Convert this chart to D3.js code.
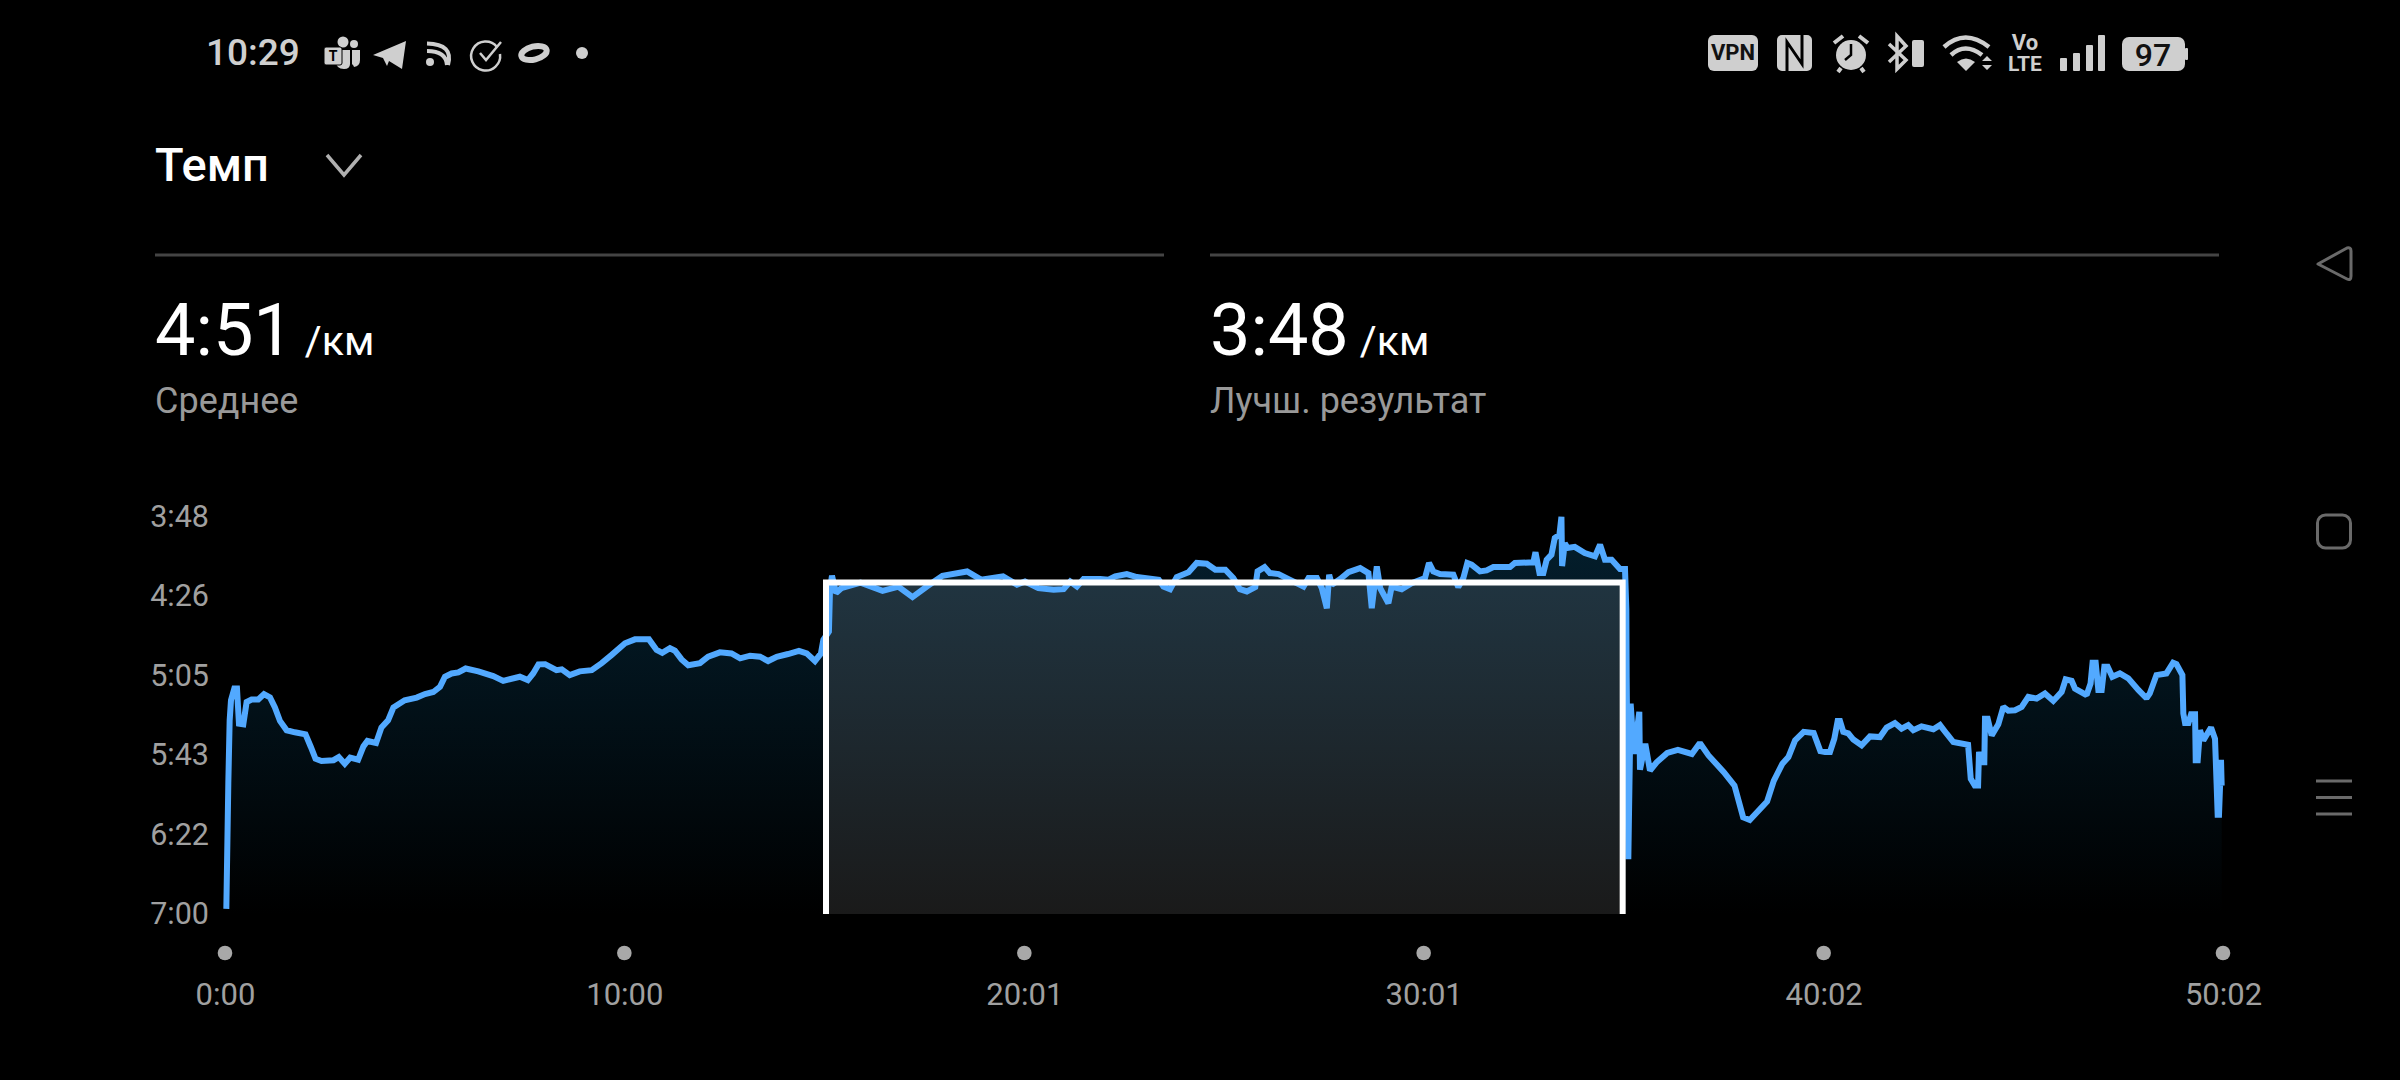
<!DOCTYPE html>
<html><head><meta charset="utf-8">
<script src="https://cdn.jsdelivr.net/npm/d3@7"></script>
<style>html,body{margin:0;padding:0;background:#000;overflow:hidden}svg{display:block}text{font-family:Roboto,sans-serif}</style>
</head><body>
<svg id="c" width="2400" height="1080"></svg>
<script>
// elapsed seconds
const times=[2,5,7,9,14,18,21,27.5,32.5,40,50,58.6,67.6,75,82.6,92.6,105,121,129,136,145,163,171,180,188,200,208,214,227,235,245,253,270,288,300.5,313,323,330.5,340.5,350.6,361.6,380.6,403,418,443,455,463,471,481,498,506,518,533,551,566,581,601,616,637,648.5,657,668.5,676,686,696,713.6,726,743.6,761,774,789,804,816,829,846,862.3,874,886.4,895.4,899,907.4,909,912,918,926,955,988,1012,1033,1054,1078,1115,1136,1169,1190,
1202,1222,1245,1260,1270,1280,1290,1315,1327.5,1337.5,1355,1370,1403,1410,1420,1430,1447.7,1460,1475,1488,1503,1515,1525,1535.4,1548,1551.4,1562,1570,1583,1598,1620.5,1628,1640.5,1648,1655.5,1659,1663,1675.6,1688,1705.6,1718,1723,1730.6,1735.7,1748,1753,1768,1783,
1803,1809,1815.5,1825.5,1845.6,1853,1860.6,1866.6,1873,1885.6,1895.6,1905.7,1930.7,1938,1965.8,1969,1975,1980.8,1985.8,1993,1998,2005,2008,2009,2013,2017,2028,2043,2058.4,2066,2073.4,2083.4,2096,2103.5,2105.5,2106,2108.5,2112,2117,2125,2126,2134,2141,2151,2167,2183,2204,2216,2229,2252,2268,2281,2291,2317,2327,2340,2349,2359,2372,2387,2397,
2404,2411.5,2418,2423,2426.5,2431.5,2439,2446.6,2459,2471.6,2486.6,2496.6,2509,2519,2529,2536.7,2549,2566.8,2576.8,2586.8,2596.8,2619,2623,2629,2634,2635.4,2639.4,2643.4,2644.4,2648.4,2654.4,2664.4,2672,2679.4,2689.5,2699.5,2709.5,2722,2734.5,2747,2759.6,2765.6,2774.6,2779.6,2797,2803,2806,2810.7,2814.7,2819.7,2823.7,2828.7,2835.7,2847,2859.7,2874.8,2887,2892,2902,2917,2927,2932,2941,2942.4,2945,2950,2954,2960,2961,2964,2967.4,2972.4,2984,2990,2992.4,2994,2996,2999,3000];
// pace, seconds per km
const paces=[418,357,326.7,317,311.3,311.3,328.3,328.6,317.8,316.6,316.6,314,315.6,320.5,327,331.5,332.5,333.5,339.6,345.3,346.4,346,344.5,347.7,344.8,345.8,339.3,336.7,337.7,330.2,326.7,320.5,317,315.7,314,313,310.5,305.6,304,303.5,301.6,303,305.3,307.6,305.6,307.2,304,299.6,299.5,302.4,302,304.8,303,302.4,299,295,289.4,287.5,287.5,292.6,294,291.8,293,297.2,300,299,295.9,293.8,294.3,296.7,295.4,295.9,298,295.9,294.6,293.1,294.3,298,294.3,287.8,283.7,263.5,256.7,265,262.7,260,264,262,267,262,256.7,254.6,258.6,257,261,
259.5,262.7,263.5,263.2,259.5,261.9,258.3,258.3,258.6,257,255.9,257.3,258.6,261.9,263.2,257.3,255,250.5,250.9,253.8,253.8,257.8,263.2,264.3,262.2,254.6,252.5,255.4,255.9,258.3,261.9,257.8,257.8,262.7,272.4,256.2,261,258.3,255,253,255.4,272.4,252.2,262.7,270,261.9,263.2,260.3,
257.8,250.5,254.6,255.9,256.2,262.2,257.8,250.5,251.3,254.6,254.1,252.5,252.5,250.5,250.2,245.3,255.4,255.4,248.9,246.5,238.4,236.8,228.2,252,241,243.2,242.7,245.7,247.3,241.6,248.9,248.9,253.4,253.4,273,305.6,394,318.6,343,322.6,350.6,338,351,347,342.5,341,343,337.7,343.7,351.8,358.3,373.7,375,366,356,347.7,344.5,336.4,332.3,332.8,341.6,
342,342,335.6,327,327,332.3,333,336,338.8,334.5,334.8,330.2,328,330.7,329,331.5,329.6,331,329,333.2,337.2,338.5,355,358.3,358.3,342,347,347,325.9,325.9,334,328.6,320.2,322,321.8,320.2,315.3,316.2,313.7,317.3,312.9,306.9,307.6,311.3,314.5,308.9,298.8,298.8,312,312,300.8,300.8,305.6,304,306.4,312,316,313.7,304.8,304,298.8,299.5,304.8,323.4,328,328,323.8,323.8,346,346,331.5,336.4,330.2,335.6,357.5,372.4,372.4,345.8,358.3];
const yTickValues=[228,266,305,343,382,420];
const yTickLabels=["3:48","4:26","5:05","5:43","6:22","7:00"];
const xTickValues=[0,600,1201,1801,2402,3002];
const xTickLabels=["0:00","10:00","20:01","30:01","40:02","50:02"];
const selection=[903,2100];
const selectionPace=260;
const title="Темп";
const stats=[{value:"4:51",unit:"/км",label:"Среднее"},{value:"3:48",unit:"/км",label:"Лучш. результат"}];

const svg=d3.select("#c");
const x=d3.scaleLinear().domain([0,3002]).range([225,2223]);
const y=d3.scaleLinear().domain([228,420]).range([516.5,913]);
const pts=times.map((t,i)=>[t,paces[i]]);
const base=914;

const defs=svg.append("defs");
const g1=defs.append("linearGradient").attr("id","ga").attr("x1",0).attr("x2",0).attr("y1",0).attr("y2",1);
g1.append("stop").attr("offset",0).attr("stop-color","#04202f");
g1.append("stop").attr("offset",1).attr("stop-color","#000");
const g2=defs.append("linearGradient").attr("id","gs").attr("x1",0).attr("x2",0).attr("y1",0).attr("y2",1);
g2.append("stop").attr("offset",0).attr("stop-color","#203440");
g2.append("stop").attr("offset",1).attr("stop-color","#1a1a1a");

svg.append("path").datum(pts).attr("fill","url(#ga)")
  .attr("d",d3.area().x(d=>x(d[0])).y0(base).y1(d=>y(d[1])));
const sx0=x(selection[0]),sx1=x(selection[1]),sy=y(selectionPace);
svg.append("rect").attr("x",sx0).attr("y",sy).attr("width",sx1-sx0).attr("height",base-sy).attr("fill","url(#gs)");
svg.append("path").datum(pts).attr("fill","none").attr("stroke","#52a9ff").attr("stroke-width",6).attr("stroke-linejoin","miter").attr("stroke-miterlimit",1.5)
  .attr("d",d3.line().x(d=>x(d[0])).y(d=>y(d[1])));
svg.append("path").attr("fill","none").attr("stroke","#fff").attr("stroke-width",6)
  .attr("d",`M${sx0},${base}V${sy}H${sx1}V${base}`);

const yAxis=d3.axisLeft(y).tickValues(yTickValues).tickFormat((d,i)=>yTickLabels[i]).tickSize(0);
const ga=svg.append("g").attr("transform","translate(209,0)").call(yAxis);
ga.select(".domain").remove();
ga.selectAll("text").attr("x",0).attr("dy","0.34em").attr("text-anchor","end").attr("fill","#a0a0a0").style("font-size","30.5px").style("font-family","Roboto");
const xAxis=d3.axisBottom(x).tickValues(xTickValues).tickFormat((d,i)=>xTickLabels[i]).tickSize(0);
const gb=svg.append("g").attr("transform","translate(0,982.5)").call(xAxis);
gb.select(".domain").remove();
gb.selectAll("text").attr("y",0).attr("dy","0.73em").attr("fill","#a0a0a0").style("font-size","31px").style("font-family","Roboto");
svg.append("g").selectAll("circle").data(xTickValues).join("circle").attr("cx",d=>x(d)).attr("cy",953).attr("r",7.3).attr("fill","#a8a8a8");

svg.append("text").attr("x",155).attr("y",181).attr("fill","#fff").attr("font-size",47).attr("font-weight",500).text(title);
svg.append("path").attr("d","M327,155L344,175L361,155").attr("fill","none").attr("stroke","#b0b0b0").attr("stroke-width",3.5);
const colX=[155,1210];
stats.forEach((s,i)=>{
  svg.append("line").attr("x1",colX[i]).attr("x2",colX[i]+1009).attr("y1",255).attr("y2",255).attr("stroke","#444").attr("stroke-width",3);
  const t=svg.append("text").attr("x",colX[i]).attr("y",355).attr("fill","#fff");
  t.append("tspan").attr("font-size",72).text(s.value);
  t.append("tspan").attr("font-size",41).attr("dx",11).text(s.unit);
  svg.append("text").attr("x",colX[i]).attr("y",413).attr("fill","#999").attr("font-size",36).text(s.label);
});

const C="#cfcfcf";
svg.append("text").attr("x",206).attr("y",65).attr("fill",C).attr("font-size",37).attr("font-weight",500).text("10:29");
const L=svg.append("g");
L.append("circle").attr("cx",343).attr("cy",42).attr("r",5.5).attr("fill",C);
L.append("circle").attr("cx",354).attr("cy",44).attr("r",4).attr("fill",C);
L.append("path").attr("d","M336,50h14v14q0,5 -6,5q-8,0 -8,-8zM352,50h8v10q0,6 -6,7q0,-1 -2,-3z").attr("fill",C);
L.append("rect").attr("x",324).attr("y",47).attr("width",18).attr("height",18).attr("rx",2).attr("fill",C).attr("stroke","#000").attr("stroke-width",1);
L.append("text").attr("x",333).attr("y",61).attr("text-anchor","middle").attr("font-size",14).attr("font-weight",700).attr("fill","#000").text("T");
L.append("path").attr("d","M373,55L406,41L402,69L389,61L387,66L383,58Z").attr("fill",C);
L.append("circle").attr("cx",430).attr("cy",62).attr("r",4).attr("fill",C);
L.append("path").attr("d","M427,51Q446,51 447,65M427,43.5Q454,44 448,65").attr("fill","none").attr("stroke",C).attr("stroke-width",4);
L.append("path").attr("d","M497,47A14.5,14.5 0 1 0 500,54").attr("fill","none").attr("stroke",C).attr("stroke-width",2.5);
L.append("path").attr("d","M480,53L486,60L501,42").attr("fill","none").attr("stroke",C).attr("stroke-width",2.5);
L.append("ellipse").attr("cx",534).attr("cy",53).attr("rx",13).attr("ry",6.5).attr("fill","none").attr("stroke",C).attr("stroke-width",6).attr("transform","rotate(-14 534 53)");
L.append("circle").attr("cx",582).attr("cy",53).attr("r",6).attr("fill",C);

const R=svg.append("g");
R.append("rect").attr("x",1708).attr("y",35).attr("width",50).attr("height",36).attr("rx",6).attr("fill",C);
R.append("text").attr("x",1733).attr("y",60).attr("text-anchor","middle").attr("font-size",22).attr("font-weight",700).attr("fill","#111").text("VPN");
R.append("rect").attr("x",1777).attr("y",35).attr("width",35).attr("height",36).attr("rx",5).attr("fill",C);
R.append("path").attr("d","M1787,71V42L1802,64V35").attr("fill","none").attr("stroke","#000").attr("stroke-width",3);
R.append("circle").attr("cx",1851).attr("cy",55).attr("r",15).attr("fill",C);
R.append("path").attr("d","M1851,44V55L1845,60").attr("fill","none").attr("stroke","#000").attr("stroke-width",2.5);
R.append("path").attr("d","M1834,43L1843,36M1868,43L1859,36M1841,68L1838,72M1861,68L1864,72").attr("stroke",C).attr("stroke-width",4);
R.append("path").attr("d","M1889,44L1906,60L1897,69V36L1906,46L1889,62").attr("fill","none").attr("stroke",C).attr("stroke-width",3.5);
R.append("rect").attr("x",1912).attr("y",40).attr("width",12).attr("height",27).attr("rx",2).attr("fill",C);
R.append("path").attr("d","M1944,47Q1965,28 1989,47M1951,55Q1965,42 1982,55").attr("fill","none").attr("stroke",C).attr("stroke-width",4.5);
R.append("path").attr("d","M1957,62Q1966,55 1975,62L1966,71Z").attr("fill",C);
R.append("path").attr("d","M1982,61L1987,56L1992,61ZM1982,65L1992,65L1987,70Z").attr("fill",C);
R.append("text").attr("x",2025).attr("y",50).attr("text-anchor","middle").attr("font-size",22).attr("font-weight",700).attr("fill",C).text("Vo");
R.append("text").attr("x",2025).attr("y",71).attr("text-anchor","middle").attr("font-size",21).attr("font-weight",700).attr("fill",C).text("LTE");
R.selectAll("rect.sig").data([[2060,58],[2073,53],[2086,45],[2098,35]]).join("rect").attr("class","sig").attr("x",d=>d[0]).attr("y",d=>d[1]).attr("width",7).attr("height",d=>71-d[1]).attr("rx",1).attr("fill",C);
R.append("rect").attr("x",2122).attr("y",37).attr("width",63).attr("height",34).attr("rx",7).attr("fill",C);
R.append("rect").attr("x",2185).attr("y",48).attr("width",3).attr("height",12).attr("rx",1).attr("fill",C);
R.append("text").attr("x",2153).attr("y",66).attr("text-anchor","middle").attr("font-size",32).attr("font-weight",500).attr("fill","#111").text("97");

const N="#6a6a6a";
svg.append("path").attr("d","M2318,264L2347,248Q2351,247 2351,251V276Q2351,281 2347,279Z").attr("fill","none").attr("stroke",N).attr("stroke-width",3).attr("stroke-linejoin","round");
svg.append("rect").attr("x",2317.5).attr("y",515).attr("width",33).attr("height",33).attr("rx",8).attr("fill","none").attr("stroke",N).attr("stroke-width",3);
svg.append("path").attr("d","M2316,781H2352M2316,797.5H2352M2316,814H2352").attr("stroke",N).attr("stroke-width",3);
</script>
</body></html>
